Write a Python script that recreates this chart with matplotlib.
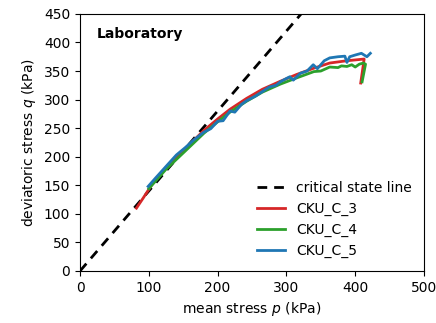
import matplotlib
matplotlib.use("Agg")
import matplotlib.pyplot as plt
import numpy as np

# Critical state line slope
M = 1.4
csl_p = [0, 500]

# CKU_C_3
p3 = [82, 92, 106, 125, 153, 180, 200, 218, 242, 265, 291, 315, 340, 363, 388, 405, 413, 408]
q3 = [110, 128, 154, 181, 214, 246, 266, 283, 302, 318, 332, 344, 355, 364, 368, 370, 371, 329]

# CKU_C_4
p4 = [100, 125, 153, 180, 200, 218, 242, 265, 291, 315, 340, 350, 363, 375, 380, 388, 395, 400, 406, 412, 415, 410]
q4 = [144, 178, 210, 241, 261, 278, 297, 313, 327, 338, 349, 350, 357, 356, 359, 358, 361, 357, 362, 364, 362, 331]

# CKU_C_5
p5 = [99, 110, 125, 140, 153, 165, 180, 190, 200, 208, 218, 225, 235, 242, 255, 265, 275, 285, 291, 300,
      305, 310, 320, 330, 339, 345, 355, 363, 375, 385, 388, 392, 400, 409, 417, 422]
q5 = [148, 163, 183, 203, 216, 229, 243, 249, 262, 263, 280, 278, 292, 298, 306, 314, 322, 325, 331, 337,
      340, 334, 346, 350, 361, 354, 368, 373, 375, 376, 365, 375, 378, 381, 375, 381]

fig = plt.figure(figsize=(4.36, 3.23), dpi=100)
ax = fig.add_axes([0.1835, 0.161, 0.789, 0.796])

ax.plot(csl_p, [M * v for v in csl_p], color="black", ls=(0, (3.5, 2.5)), lw=2, label="critical state line")
ax.plot(p3, q3, color="#d62728", lw=2, label="CKU_C_3")
ax.plot(p4, q4, color="#2ca02c", lw=2, label="CKU_C_4")
ax.plot(p5, q5, color="#1f77b4", lw=2, label="CKU_C_5")

ax.set_xlim(0, 500)
ax.set_ylim(0, 450)
ax.set_xticks([0, 100, 200, 300, 400, 500])
ax.set_yticks(np.arange(0, 451, 50))
ax.tick_params(labelsize=10)
ax.set_xlabel("mean stress $p$ (kPa)", fontsize=10)
ax.set_ylabel("deviatoric stress $q$ (kPa)", fontsize=10)
ax.text(0.05, 0.92, "Laboratory", transform=ax.transAxes, fontweight="bold", fontsize=10, va="center")
ax.legend(loc="lower right", frameon=False, fontsize=10)

fig.savefig("out.png", dpi=100)
